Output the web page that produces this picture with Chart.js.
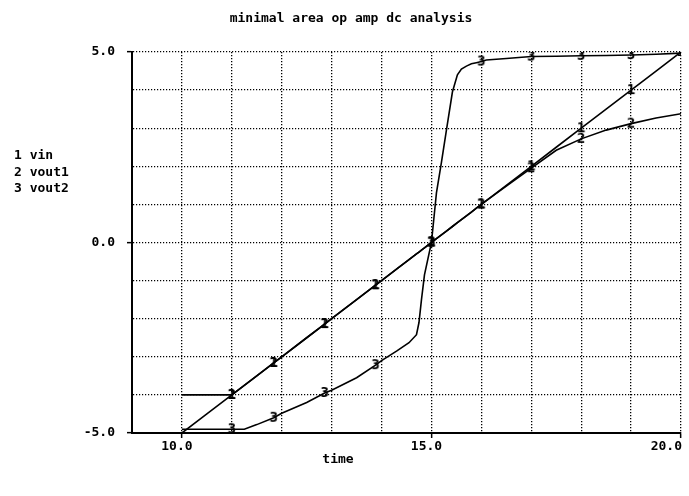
<!DOCTYPE html>
<html>
<head>
<meta charset="utf-8">
<script src="https://cdn.jsdelivr.net/npm/chart.js@4/dist/chart.umd.min.js"></script>
<style>
  html, body { margin: 0; padding: 0; background: #fff; }
  #wrap { width: 689px; height: 496px; }
</style>
</head>
<body>
<div id="wrap"><canvas id="chart" width="689" height="496"></canvas></div>
<script>
// sweep values (time) shared by all three traces
const time = [10.0, 10.5, 11.0, 11.25, 11.5, 11.84, 12.0, 12.5, 12.86, 13.0, 13.5, 13.88, 14.0, 14.3, 14.55,
  14.7, 14.75, 14.8, 14.86, 15.0, 15.1, 15.2, 15.3, 15.42, 15.52, 15.6, 15.7, 15.8, 15.9, 16.0, 16.1, 16.5,
  17.0, 17.5, 18.0, 18.5, 19.0, 19.5, 20.0];

const vin = [-5.0, -4.5, -4.0, -3.75, -3.5, -3.16, -3.0, -2.5, -2.14, -2.0, -1.5, -1.12, -1.0, -0.7, -0.45,
  -0.3, -0.25, -0.2, -0.14, 0.0, 0.1, 0.2, 0.3, 0.42, 0.52, 0.6, 0.7, 0.8, 0.9, 1.0, 1.1, 1.5,
  2.0, 2.5, 3.0, 3.5, 4.0, 4.5, 5.0];

const vout1 = [-4.0, -4.0, -4.0, -3.75, -3.5, -3.16, -3.0, -2.5, -2.14, -2.0, -1.5, -1.12, -1.0, -0.7, -0.45,
  -0.3, -0.25, -0.2, -0.14, 0.0, 0.1, 0.2, 0.3, 0.42, 0.52, 0.6, 0.7, 0.8, 0.9, 1.0, 1.1, 1.48,
  1.95, 2.42, 2.72, 2.95, 3.12, 3.27, 3.38];

const vout2 = [-4.9, -4.9, -4.9, -4.9, -4.78, -4.6, -4.48, -4.2, -3.95, -3.88, -3.55, -3.22, -3.1, -2.85, -2.63,
  -2.42, -2.1, -1.5, -0.85, 0.0, 1.3, 2.1, 2.95, 3.95, 4.4, 4.55, 4.63, 4.69, 4.72, 4.75, 4.79, 4.83,
  4.88, 4.89, 4.9, 4.91, 4.92, 4.94, 4.97];

const seriesNames = ['vin', 'vout1', 'vout2'];
const markers1 = [11.0, 11.84, 12.86, 13.88, 15.0, 16.0, 17.0, 18.0, 19.0, 20.0];
const markers2 = [11.0, 11.84, 12.86, 13.88, 15.0, 16.0, 17.0, 18.0, 19.0];
const markers3 = [11.0, 11.84, 12.86, 13.88, 15.0, 16.0, 17.0, 18.0, 19.0];

const xLabelValues = [10, 15, 20];
const yLabelValues = [5, 0, -5];
const titleText = 'minimal area op amp dc analysis';
const xTitle = 'time';

const MONO = '"DejaVu Sans Mono", "Liberation Mono", monospace';

// digit glyph used as the point marker of each trace
function glyph(ch) {
  const c = document.createElement('canvas');
  c.width = 12;
  c.height = 16;
  const g = c.getContext('2d');
  g.fillStyle = '#000';
  g.font = 'bold 14px ' + MONO;
  g.textAlign = 'center';
  g.textBaseline = 'middle';
  g.fillText(ch, 6, 8.5);
  return c;
}

function makeSet(values, marks, digit) {
  const g = glyph(digit);
  return {
    data: time.map((t, i) => ({ x: t, y: values[i] })),
    borderColor: '#000',
    borderWidth: 1.6,
    tension: 0,
    pointRadius: ctx => marks.includes(time[ctx.dataIndex]) ? 5 : 0,
    pointStyle: ctx => marks.includes(time[ctx.dataIndex]) ? g : 'circle',
    fill: false
  };
}

const textPlugin = {
  id: 'plotText',
  afterDraw(chart) {
    const { ctx, scales: { x } } = chart;
    ctx.save();
    ctx.fillStyle = '#000';
    ctx.font = 'bold 13px ' + MONO;
    ctx.textBaseline = 'middle';

    ctx.textAlign = 'center';
    ctx.fillText(titleText, 351, 19);
    ctx.fillText(xTitle, 338, 460);

    // x tick labels, sitting a little left of their ticks like the plotter did
    xLabelValues.forEach(v => {
      const s = v.toFixed(1);
      const w = ctx.measureText(s).width;
      const cx = Math.min(x.getPixelForValue(v) - 5, 682 - w / 2);
      ctx.fillText(s, cx, 447);
    });

    // trace key on the left
    ctx.textAlign = 'left';
    seriesNames.forEach((n, i) => {
      ctx.fillText((i + 1) + ' ' + n, 14, 156 + i * 16.5);
    });
    ctx.restore();
  }
};

const labelTick = list => ctx => list.includes(ctx.tick.value) ? '#000' : 'rgba(0,0,0,0)';

new Chart(document.getElementById('chart'), {
  type: 'line',
  data: {
    datasets: [
      makeSet(vin, markers1, '1'),
      makeSet(vout1, markers2, '2'),
      makeSet(vout2, markers3, '3')
    ]
  },
  options: {
    responsive: false,
    animation: false,
    events: [],
    layout: { padding: { left: 0, right: 8, top: 52, bottom: 0 } },
    plugins: {
      legend: { display: false },
      title: { display: false },
      tooltip: { enabled: false }
    },
    scales: {
      x: {
        type: 'linear',
        min: 9,
        max: 20,
        ticks: { stepSize: 1, display: false, autoSkip: false },
        grid: {
          color: '#000',
          lineWidth: 1.3,
          drawTicks: true,
          tickLength: 5,
          tickWidth: 1.5,
          tickBorderDash: [],
          tickColor: labelTick(xLabelValues)
        },
        border: { display: true, color: '#000', width: 2, dash: [1.2, 1.8] },
        afterFit: s => { s.height = 63; s.paddingLeft = 0; s.paddingRight = 0; }
      },
      y: {
        type: 'linear',
        min: -5,
        max: 5,
        ticks: {
          stepSize: 1,
          autoSkip: false,
          padding: 12,
          color: '#000',
          font: { family: MONO, size: 13, weight: 'bold' },
          callback: v => yLabelValues.includes(v) ? v.toFixed(1) : ''
        },
        grid: {
          color: '#000',
          lineWidth: 1.3,
          drawTicks: true,
          tickLength: 5,
          tickWidth: 1.5,
          tickBorderDash: [],
          tickColor: labelTick(yLabelValues)
        },
        border: { display: true, color: '#000', width: 2, dash: [1.2, 1.8] },
        afterFit: s => { s.width = 132; s.paddingTop = 0; s.paddingBottom = 0; }
      }
    }
  },
  plugins: [textPlugin]
});
</script>
</body>
</html>
